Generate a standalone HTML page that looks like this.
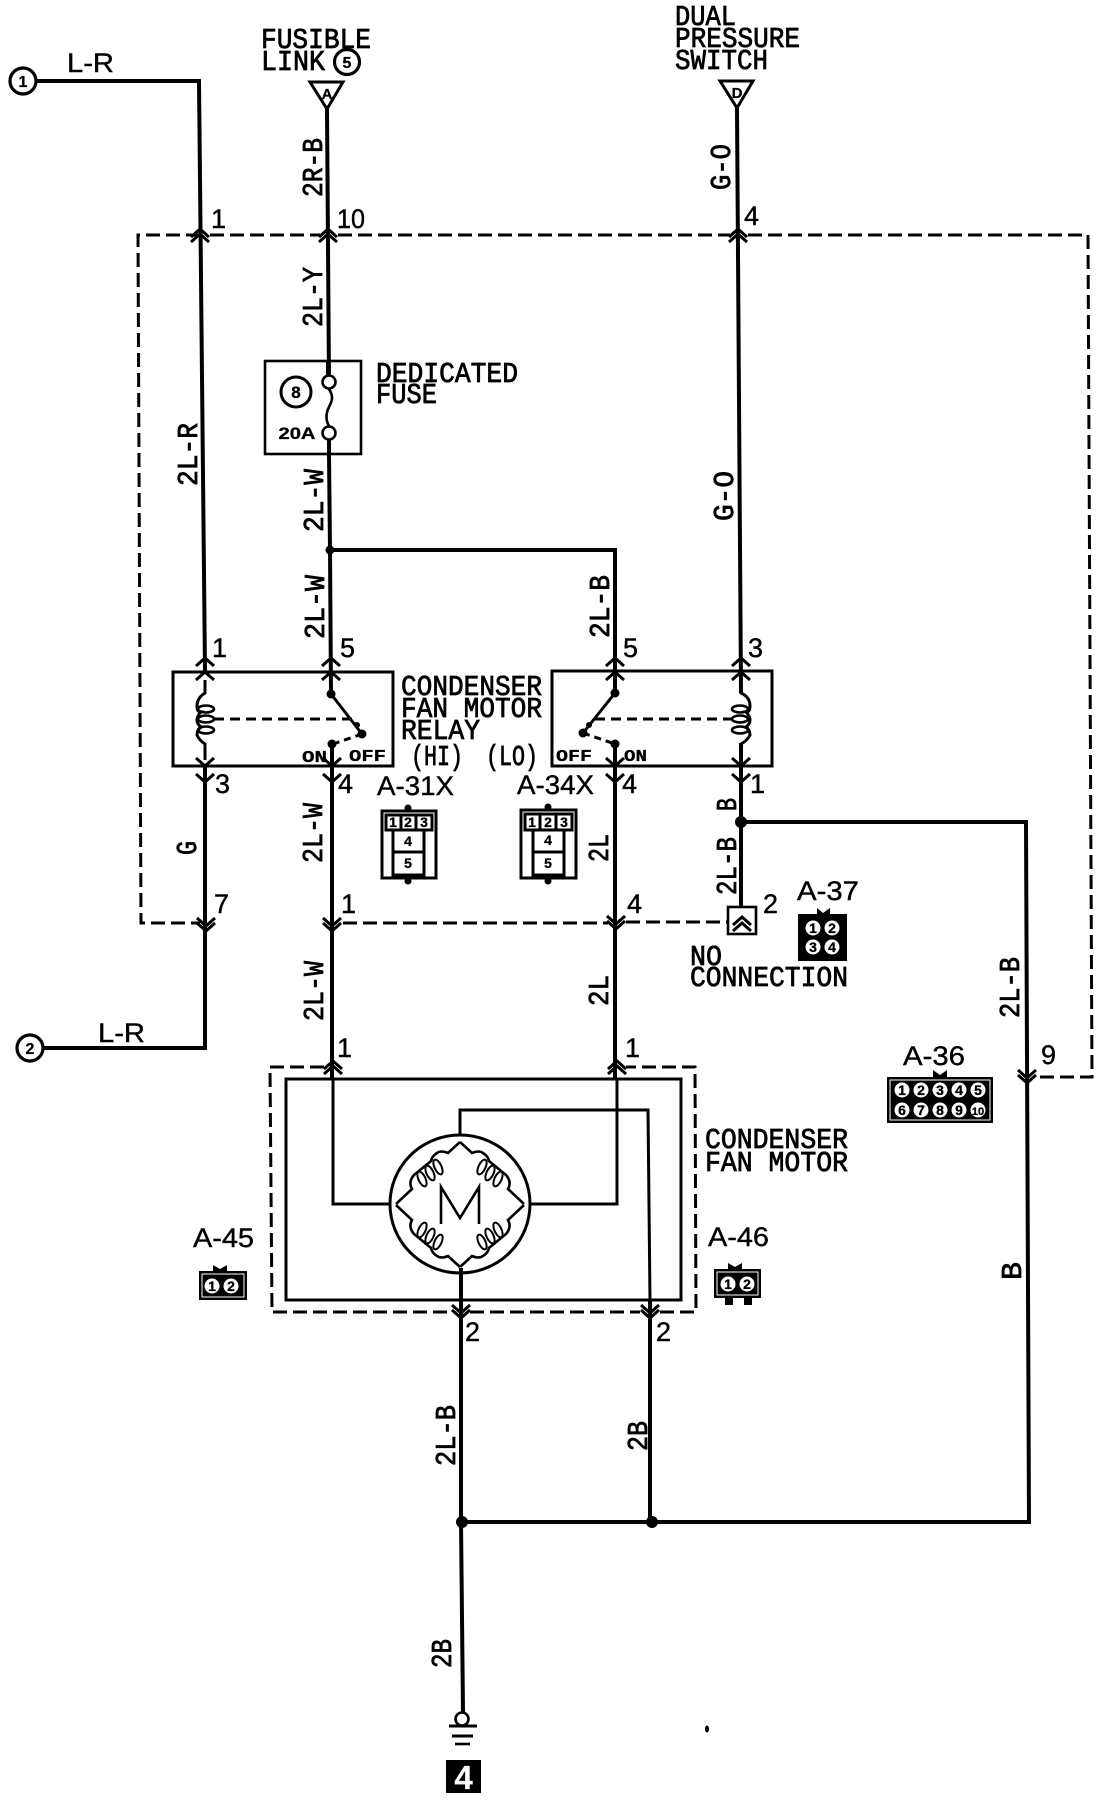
<!DOCTYPE html>
<html><head><meta charset="utf-8"><title>Condenser fan motor circuit</title>
<style>
html,body{margin:0;padding:0;background:#fff}
svg{display:block}
text{font-family:"Liberation Mono",monospace;font-size:29px;fill:#000;stroke:#000;stroke-width:.8}
.s{font-family:"Liberation Sans",sans-serif;font-size:27px;stroke-width:.4}
.b{font-family:"Liberation Sans",sans-serif;font-weight:bold;font-size:14px;stroke-width:.3;text-anchor:middle}
.o{font-family:"Liberation Mono",monospace;font-weight:bold;font-size:17px;stroke-width:.3}
.w{fill:none;stroke:#000;stroke-width:4}
.m{fill:none;stroke:#000;stroke-width:3}
.n{fill:none;stroke:#000;stroke-width:2.6}
.c{fill:none;stroke:#000;stroke-width:2}
.da{fill:none;stroke:#000;stroke-width:3;stroke-dasharray:14 6}
.ch{fill:none;stroke:#000;stroke-width:3}
</style></head><body>
<svg width="1104" height="1800" viewBox="0 0 1104 1800" xmlns="http://www.w3.org/2000/svg">
<defs>
<path id="u" class="ch" d="M-9 8L0 0L9 8"/>
<path id="d" class="ch" d="M-9 -8L0 0L9 -8"/>
<g id="uu"><use href="#u"/><use href="#u" y="5"/></g>
<g id="dd"><use href="#d"/><use href="#d" y="-5"/></g>
<g id="tl">
<path class="n" d="M460 1142L448 1153Q441 1150 437 1153Q432 1156 431 1161L414 1175Q408 1182 412 1189L396 1204"/>
<ellipse class="c" cx="438" cy="1167" rx="8" ry="3.500" transform="rotate(65 438 1167)"/>
<ellipse class="c" cx="430" cy="1173" rx="8" ry="3.500" transform="rotate(65 430 1173)"/>
<ellipse class="c" cx="422" cy="1179" rx="8" ry="3.500" transform="rotate(65 422 1179)"/>
</g>
</defs>

<!-- dashed harness -->
<path class="da" d="M200 235H138L141 923H200"/>
<path class="da" d="M210 235H320M338 235H730M748 235H1088L1092 1077H1036"/>
<path class="da" stroke-dasharray="11 6" d="M343 923H608M626 922H728"/>
<path class="da" d="M324 1067H270L272 1312H452M470 1312H640M660 1312H696L695 1067H626"/>

<!-- wires -->
<path class="w" d="M36 81H199L205 672"/>
<path class="w" d="M205 766V1048H43"/>
<path class="w" d="M327 109L329 382M329 433V454L330 550L331 694"/>
<path class="w" d="M330 550H615V693"/>
<path class="w" d="M332 744V1079"/>
<path class="w" d="M615 744V1079"/>
<path class="m" d="M333 1079V1204H390"/>
<path class="m" d="M617 1079V1204H530"/>
<path class="w" d="M737 108L741 693"/>
<path class="w" d="M741 743V907"/>
<path class="w" d="M741 822H1026L1029 1522H462"/>
<path class="w" d="M461 1268V1522L463 1713"/>
<path class="m" d="M460 1136V1110H648L650 1300"/>
<path class="w" d="M650 1300V1522"/>
<circle cx="330" cy="550" r="4.500"/><circle cx="741" cy="822" r="6"/><circle cx="462" cy="1522" r="6"/><circle cx="652" cy="1522" r="6"/>

<!-- chevrons -->
<use href="#uu" x="200" y="229"/><use href="#uu" x="328" y="229"/><use href="#uu" x="738" y="229"/>
<use href="#u" x="205" y="658"/><use href="#u" x="205" y="672"/><use href="#u" x="331" y="658"/><use href="#u" x="331" y="672"/>
<use href="#u" x="615" y="658"/><use href="#u" x="615" y="672"/><use href="#u" x="741" y="658"/><use href="#u" x="741" y="672"/>
<use href="#d" x="205" y="766"/><use href="#d" x="205" y="782"/><use href="#d" x="332" y="766"/><use href="#d" x="332" y="782"/>
<use href="#d" x="615" y="766"/><use href="#d" x="615" y="782"/><use href="#d" x="741" y="766"/><use href="#d" x="741" y="782"/>
<use href="#dd" x="206" y="931"/><use href="#dd" x="332" y="931"/><use href="#dd" x="616" y="929"/>
<use href="#uu" x="333" y="1061"/><use href="#uu" x="617" y="1061"/>
<use href="#dd" x="461" y="1318"/><use href="#dd" x="650" y="1318"/><use href="#dd" x="1027" y="1083"/>

<!-- off-page circles & triangles -->
<circle cx="23" cy="81" r="13" fill="#fff" stroke="#000" stroke-width="3.200"/><text class="b" x="23" y="87" style="font-size:16px">1</text>
<circle cx="30" cy="1048" r="13" fill="#fff" stroke="#000" stroke-width="3.200"/><text class="b" x="30" y="1054" style="font-size:16px">2</text>
<circle cx="347" cy="62" r="12.500" fill="#fff" stroke="#000" stroke-width="3.200"/><text class="b" x="347" y="68" style="font-size:16px">5</text>
<path d="M310 82H343L327 109Z" fill="#fff" stroke="#000" stroke-width="3"/><text class="b" x="327" y="99" style="font-size:15px">A</text>
<path d="M720 81H753L737 108Z" fill="#fff" stroke="#000" stroke-width="3"/><text class="b" x="737" y="98" style="font-size:15px">D</text>

<!-- fuse -->
<rect x="265" y="361" width="96" height="93" fill="none" stroke="#000" stroke-width="2.600"/>
<path class="w" d="M328 361V376M329 439V454"/>
<path class="n" d="M329 389c5 8 3 12 0 18s-4 12 0 19"/>
<circle cx="329" cy="382" r="6.500" fill="#fff" stroke="#000" stroke-width="2.600"/>
<circle cx="329" cy="433" r="6.500" fill="#fff" stroke="#000" stroke-width="2.600"/>
<circle cx="296" cy="392" r="15" fill="#fff" stroke="#000" stroke-width="3"/><text class="b" x="296" y="398" style="font-size:17px">8</text>
<text class="b" x="297" y="439" style="font-size:17px" textLength="37" lengthAdjust="spacingAndGlyphs">20A</text>

<!-- relay 1 -->
<rect x="173" y="672" width="220" height="94" fill="none" stroke="#000" stroke-width="3"/>
<path class="m" d="M205 680V693Q197 698 197 706Q197 712 201 712Q197 716 197 720Q197 724 201 727Q197 730 197 735Q199 740 205 744V760"/>
<ellipse class="n" cx="206" cy="709" rx="8" ry="3.500"/><ellipse class="n" cx="206" cy="719" rx="8" ry="3.500"/><ellipse class="n" cx="206" cy="730" rx="8" ry="3.500"/>
<path class="m" d="M331 694L362 734"/>
<path class="m" stroke-dasharray="10 6" d="M214 719H353"/>
<path class="m" stroke-dasharray="7 5" d="M362 734L336 743"/>
<circle cx="331" cy="694" r="4.500"/><circle cx="362" cy="734" r="4.500"/><circle cx="332" cy="744" r="4.500"/><circle cx="357" cy="725" r="3"/>
<text class="o" x="302" y="762" textLength="25" lengthAdjust="spacingAndGlyphs">ON</text>
<text class="o" x="349" y="761" textLength="37" lengthAdjust="spacingAndGlyphs">OFF</text>

<!-- relay 2 -->
<rect x="552" y="671" width="220" height="95" fill="none" stroke="#000" stroke-width="3"/>
<path class="m" d="M741 680V693Q750 697 750 706Q750 712 746 712Q750 716 750 720Q750 724 746 727Q750 730 750 735Q748 740 741 744V760"/>
<ellipse class="n" cx="740" cy="709" rx="8" ry="3.500"/><ellipse class="n" cx="740" cy="719" rx="8" ry="3.500"/><ellipse class="n" cx="740" cy="730" rx="8" ry="3.500"/>
<path class="m" d="M615 693L583 733"/>
<path class="m" stroke-dasharray="10 6" d="M595 719H733"/>
<path class="m" stroke-dasharray="7 5" d="M583 733L612 743"/>
<circle cx="615" cy="693" r="4.500"/><circle cx="583" cy="733" r="4.500"/><circle cx="615" cy="744" r="4.500"/><circle cx="589" cy="725" r="3"/>
<text class="o" x="556" y="761" textLength="36" lengthAdjust="spacingAndGlyphs">OFF</text>
<text class="o" x="624" y="761" textLength="23" lengthAdjust="spacingAndGlyphs">ON</text>

<!-- no connection box -->
<rect x="728" y="907" width="28" height="27" fill="#fff" stroke="#000" stroke-width="2.600"/>
<use href="#u" x="742" y="917"/><use href="#u" x="742" y="923"/>

<!-- motor -->
<rect x="286" y="1079" width="395" height="221" fill="none" stroke="#000" stroke-width="3"/>
<ellipse class="m" cx="460" cy="1204" rx="70" ry="69"/>
<use href="#tl"/>
<use href="#tl" transform="matrix(-1 0 0 1 920 0)"/>
<use href="#tl" transform="matrix(1 0 0 -1 0 2409)"/>
<use href="#tl" transform="matrix(-1 0 0 -1 920 2409)"/>
<path class="n" d="M441 1224V1187L460 1218L479 1187V1224"/>

<!-- ground -->
<circle cx="462" cy="1719" r="6.500" fill="#fff" stroke="#000" stroke-width="2.600"/>
<path class="m" d="M449 1726H477M452 1736H473"/><path class="n" d="M455 1744H470"/>
<rect x="446" y="1760" width="35" height="33"/>
<text x="463.500" y="1789" text-anchor="middle" style="fill:#fff;stroke:#fff;font-family:'Liberation Sans',sans-serif;font-size:33px;font-weight:bold;stroke-width:.2">4</text>
<ellipse cx="707" cy="1729" rx="2" ry="3.500"/>

<!-- connectors -->
<g fill="none" stroke="#000">
<rect x="382" y="811" width="54" height="67" stroke-width="3"/>
<rect x="386" y="815" width="46" height="15" stroke-width="3"/>
<path stroke-width="3" d="M401 815V830M416 815V830M393 830V875H424V830M393 852H424"/>
<rect x="521" y="810" width="55" height="68" stroke-width="3"/>
<rect x="525" y="814" width="47" height="16" stroke-width="3"/>
<path stroke-width="3" d="M540 814V830M556 814V830M533 830V875H564V830M533 852H564"/>
</g>
<circle cx="408" cy="808" r="3.500"/><circle cx="408" cy="881" r="3.500"/><circle cx="548" cy="807" r="3.500"/><circle cx="548" cy="881" r="3.500"/>
<text class="b" x="393" y="827">1</text><text class="b" x="408" y="827">2</text><text class="b" x="424" y="827">3</text>
<text class="b" x="408" y="846">4</text><text class="b" x="408" y="868">5</text>
<text class="b" x="532" y="827">1</text><text class="b" x="548" y="827">2</text><text class="b" x="564" y="827">3</text>
<text class="b" x="548" y="845">4</text><text class="b" x="548" y="868">5</text>

<rect x="798" y="914" width="49" height="47"/><path d="M817 914V908L823 913L830 908V914Z"/>
<g fill="#fff"><circle cx="813" cy="928" r="7.500"/><circle cx="832" cy="928" r="7.500"/><circle cx="813" cy="947" r="7.500"/><circle cx="832" cy="947" r="7.500"/></g>
<text class="b" x="813" y="933">1</text><text class="b" x="832" y="933">2</text><text class="b" x="813" y="952">3</text><text class="b" x="832" y="952">4</text>

<rect x="887" y="1077" width="106" height="46"/><path d="M933 1077V1070L940 1075L947 1070V1077Z"/>
<rect x="890" y="1080" width="100" height="40" fill="none" stroke="#fff" stroke-width="1"/>
<g fill="#fff"><circle cx="902" cy="1090" r="7.500"/><circle cx="921" cy="1090" r="7.500"/><circle cx="940" cy="1090" r="7.500"/><circle cx="959" cy="1090" r="7.500"/><circle cx="978" cy="1090" r="7.500"/>
<circle cx="902" cy="1110" r="7.500"/><circle cx="921" cy="1110" r="7.500"/><circle cx="940" cy="1110" r="7.500"/><circle cx="959" cy="1110" r="7.500"/><circle cx="978" cy="1110" r="7.500"/></g>
<text class="b" x="902" y="1095">1</text><text class="b" x="921" y="1095">2</text><text class="b" x="940" y="1095">3</text><text class="b" x="959" y="1095">4</text><text class="b" x="978" y="1095">5</text>
<text class="b" x="902" y="1115">6</text><text class="b" x="921" y="1115">7</text><text class="b" x="940" y="1115">8</text><text class="b" x="959" y="1115">9</text><text class="b" x="978" y="1115" style="font-size:11px">10</text>

<rect x="199" y="1271" width="48" height="29"/><path d="M213 1271V1265L220 1269L227 1265V1271Z"/>
<rect x="202" y="1274" width="42" height="23" fill="none" stroke="#fff" stroke-width="1"/>
<circle cx="212" cy="1286" r="7.500" fill="#fff"/><circle cx="231" cy="1286" r="7.500" fill="#fff"/>
<text class="b" x="212" y="1291">1</text><text class="b" x="231" y="1291">2</text>
<rect x="714" y="1269" width="47" height="29"/><path d="M728 1269V1263L735 1267L742 1263V1269Z"/><rect x="725" y="1298" width="8" height="7"/><rect x="744" y="1298" width="8" height="7"/>
<rect x="717" y="1272" width="41" height="23" fill="none" stroke="#fff" stroke-width="1"/>
<circle cx="728" cy="1284" r="7.500" fill="#fff"/><circle cx="747" cy="1284" r="7.500" fill="#fff"/>
<text class="b" x="728" y="1289">1</text><text class="b" x="747" y="1289">2</text>

<!-- headings -->
<text x="261" y="48" textLength="110" lengthAdjust="spacingAndGlyphs">FUSIBLE</text>
<text x="261" y="70" textLength="64" lengthAdjust="spacingAndGlyphs">LINK</text>
<text x="675" y="25" textLength="61" lengthAdjust="spacingAndGlyphs">DUAL</text>
<text x="675" y="47" textLength="125" lengthAdjust="spacingAndGlyphs">PRESSURE</text>
<text x="675" y="69" textLength="93" lengthAdjust="spacingAndGlyphs">SWITCH</text>
<text x="376" y="382" textLength="142" lengthAdjust="spacingAndGlyphs">DEDICATED</text>
<text x="376" y="403" textLength="61" lengthAdjust="spacingAndGlyphs">FUSE</text>
<text x="401" y="695" textLength="141" lengthAdjust="spacingAndGlyphs">CONDENSER</text>
<text x="401" y="717" textLength="141" lengthAdjust="spacingAndGlyphs">FAN MOTOR</text>
<text x="401" y="739" textLength="79" lengthAdjust="spacingAndGlyphs">RELAY</text>
<text x="411" y="765" textLength="52" lengthAdjust="spacingAndGlyphs">(HI)</text>
<text x="486" y="765" textLength="52" lengthAdjust="spacingAndGlyphs">(LO)</text>
<text x="690" y="965" textLength="32" lengthAdjust="spacingAndGlyphs">NO</text>
<text x="690" y="986" textLength="158" lengthAdjust="spacingAndGlyphs">CONNECTION</text>
<text x="705" y="1148" textLength="143" lengthAdjust="spacingAndGlyphs">CONDENSER</text>
<text x="705" y="1171" textLength="143" lengthAdjust="spacingAndGlyphs">FAN MOTOR</text>

<!-- connector names -->
<text class="s" x="377" y="795" textLength="77" lengthAdjust="spacingAndGlyphs">A-31X</text>
<text class="s" x="517" y="794" textLength="77" lengthAdjust="spacingAndGlyphs">A-34X</text>
<text class="s" x="797" y="900" textLength="62" lengthAdjust="spacingAndGlyphs">A-37</text>
<text class="s" x="903" y="1065" textLength="62" lengthAdjust="spacingAndGlyphs">A-36</text>
<text class="s" x="193" y="1247" textLength="61" lengthAdjust="spacingAndGlyphs">A-45</text>
<text class="s" x="708" y="1246" textLength="61" lengthAdjust="spacingAndGlyphs">A-46</text>

<!-- wire names horizontal -->
<text class="s" x="67" y="72" textLength="47" lengthAdjust="spacingAndGlyphs">L-R</text>
<text class="s" x="98" y="1042" textLength="47" lengthAdjust="spacingAndGlyphs">L-R</text>

<!-- pin numbers -->
<g>
<text class="s" x="211" y="228">1</text><text class="s" x="337" y="228" textLength="28" lengthAdjust="spacingAndGlyphs">10</text><text class="s" x="744" y="225">4</text>
<text class="s" x="212" y="657">1</text><text class="s" x="340" y="657">5</text><text class="s" x="623" y="657">5</text><text class="s" x="748" y="657">3</text>
<text class="s" x="215" y="793">3</text><text class="s" x="338" y="793">4</text><text class="s" x="622" y="793">4</text><text class="s" x="750" y="793">1</text>
<text class="s" x="214" y="913">7</text><text class="s" x="341" y="913">1</text><text class="s" x="627" y="913">4</text><text class="s" x="763" y="913">2</text>
<text class="s" x="1041" y="1064">9</text>
<text class="s" x="337" y="1057">1</text><text class="s" x="625" y="1057">1</text>
<text class="s" x="465" y="1341">2</text><text class="s" x="656" y="1341">2</text>
</g>

<!-- rotated wire labels -->
<text transform="translate(322 197) rotate(-90)" textLength="59" lengthAdjust="spacingAndGlyphs">2R-B</text>
<text transform="translate(322 327) rotate(-90)" textLength="60" lengthAdjust="spacingAndGlyphs">2L-Y</text>
<text transform="translate(197 486) rotate(-90)" textLength="63" lengthAdjust="spacingAndGlyphs">2L-R</text>
<text transform="translate(323 532) rotate(-90)" textLength="63" lengthAdjust="spacingAndGlyphs">2L-W</text>
<text transform="translate(324 639) rotate(-90)" textLength="64" lengthAdjust="spacingAndGlyphs">2L-W</text>
<text transform="translate(609 638) rotate(-90)" textLength="63" lengthAdjust="spacingAndGlyphs">2L-B</text>
<text transform="translate(730 190) rotate(-90)" textLength="46" lengthAdjust="spacingAndGlyphs">G-O</text>
<text transform="translate(733 521) rotate(-90)" textLength="50" lengthAdjust="spacingAndGlyphs">G-O</text>
<text transform="translate(196 855) rotate(-90)" textLength="14" lengthAdjust="spacingAndGlyphs">G</text>
<text transform="translate(322 863) rotate(-90)" textLength="60" lengthAdjust="spacingAndGlyphs">2L-W</text>
<text transform="translate(608 862) rotate(-90)" textLength="28" lengthAdjust="spacingAndGlyphs">2L</text>
<text transform="translate(736 811) rotate(-90)" textLength="13" lengthAdjust="spacingAndGlyphs">B</text>
<text transform="translate(736 895) rotate(-90)" textLength="58" lengthAdjust="spacingAndGlyphs">2L-B</text>
<text transform="translate(323 1021) rotate(-90)" textLength="60" lengthAdjust="spacingAndGlyphs">2L-W</text>
<text transform="translate(608 1006) rotate(-90)" textLength="31" lengthAdjust="spacingAndGlyphs">2L</text>
<text transform="translate(1019 1018) rotate(-90)" textLength="61" lengthAdjust="spacingAndGlyphs">2L-B</text>
<text transform="translate(1021 1280) rotate(-90)" textLength="18" lengthAdjust="spacingAndGlyphs">B</text>
<text transform="translate(455 1466) rotate(-90)" textLength="61" lengthAdjust="spacingAndGlyphs">2L-B</text>
<text transform="translate(647 1451) rotate(-90)" textLength="30" lengthAdjust="spacingAndGlyphs">2B</text>
<text transform="translate(451 1668) rotate(-90)" textLength="29" lengthAdjust="spacingAndGlyphs">2B</text>
</svg>
</body></html>
